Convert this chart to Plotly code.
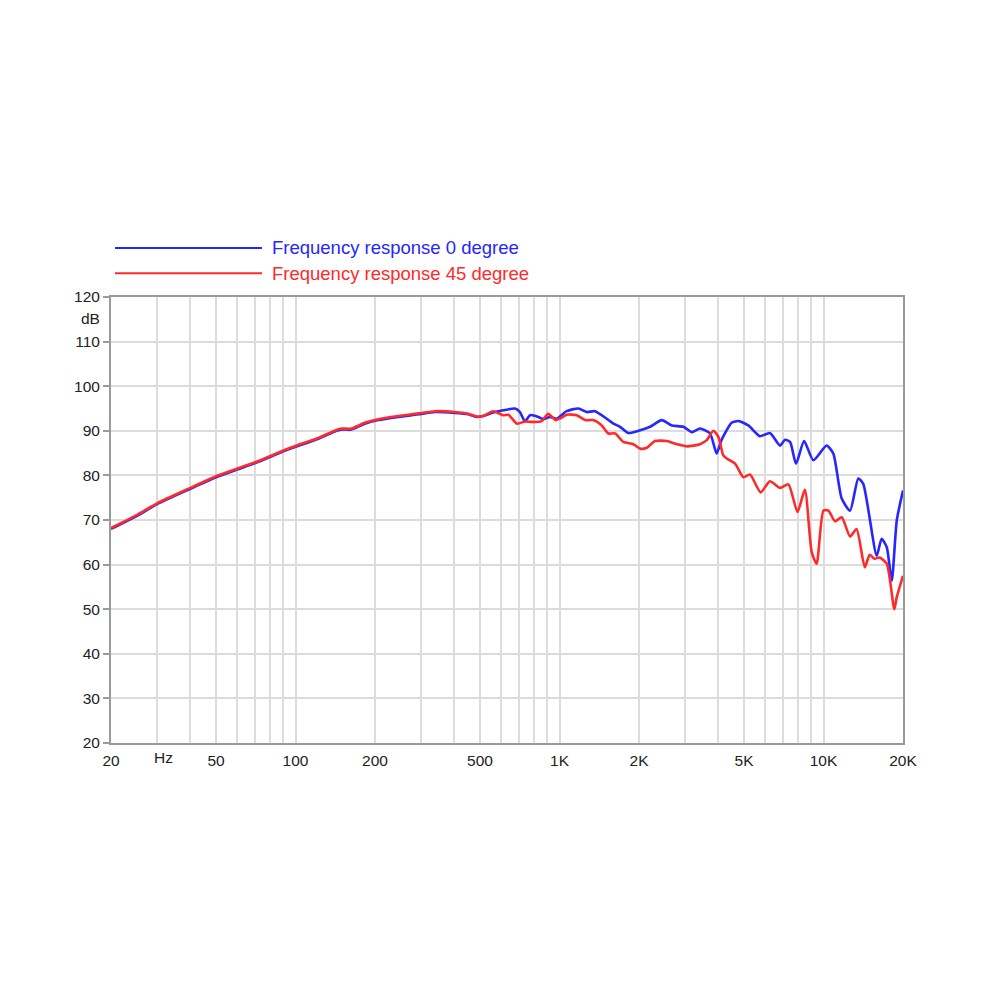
import plotly.graph_objects as go
import numpy as np

# ---- data ----
freq_0 = [20, 25, 30, 40, 50, 60, 70, 80, 90, 100, 122, 143, 150, 163, 183, 206, 245, 292, 337, 402, 451, 485,
          513, 560, 612, 678, 708, 740, 773, 831, 867, 920, 975, 1064, 1179, 1268, 1362, 1509, 1600, 1695, 1823,
          2019, 2203, 2440, 2661, 2945, 3170, 3405, 3716, 3938, 4105, 4487, 4760, 5190, 5741, 6265, 6844, 7150,
          7470, 7866, 8440, 9150, 10270, 10890, 11720, 12600, 13540, 14140, 15900, 16600, 17360, 18130, 18940, 20000]
db_0 = [68.0, 70.9, 73.6, 77.0, 79.6, 81.3, 82.7, 84.1, 85.4, 86.4, 88.2, 90.0, 90.3, 90.3, 91.6, 92.4, 93.1, 93.7,
        94.2, 94.0, 93.7, 93.1, 93.3, 94.1, 94.6, 95.0, 94.2, 92.1, 93.5, 93.1, 92.6, 93.1, 92.7, 94.4, 95.0, 94.2,
        94.4, 92.7, 91.6, 90.9, 89.5, 90.1, 90.9, 92.4, 91.2, 90.9, 89.7, 90.5, 89.4, 84.9, 87.9, 91.8, 92.2, 91.2,
        88.8, 89.5, 86.7, 88.0, 87.5, 82.6, 87.7, 83.4, 86.7, 84.9, 74.8, 72.1, 79.3, 78.1, 62.0, 65.8, 63.9, 56.4,
        69.9, 76.6]

freq_45 = [20, 25, 30, 40, 50, 60, 70, 80, 90, 100, 122, 143, 150, 163, 183, 206, 245, 292, 337, 402, 451, 485,
           513, 560, 612, 640, 690, 740, 784, 852, 906, 964, 1000, 1064, 1162, 1250, 1340, 1445, 1532, 1625, 1745,
           1903, 2019, 2140, 2300, 2547, 2780, 3040, 3405, 3610, 3826, 4000, 4171, 4300, 4630, 4970, 5265, 5780,
           6265, 6844, 7360, 7970, 8500, 9020, 9420, 9990, 10440, 11060, 11720, 12600, 13340, 14330, 14960, 15610,
           16300, 17360, 18540, 18940, 20000]
db_45 = [68.2, 71.1, 73.8, 77.2, 79.8, 81.5, 82.9, 84.3, 85.6, 86.6, 88.4, 90.2, 90.5, 90.5, 91.8, 92.6, 93.3, 93.9,
         94.4, 94.2, 93.8, 93.2, 93.3, 94.4, 93.5, 93.6, 91.6, 92.1, 92.0, 92.1, 93.8, 92.4, 92.7, 93.6, 93.5, 92.4,
         92.4, 91.2, 89.4, 89.4, 87.5, 87.0, 86.0, 86.2, 87.7, 87.7, 87.0, 86.5, 87.0, 87.9, 90.0, 88.6, 84.5, 83.8,
         82.6, 79.6, 80.2, 76.2, 78.7, 77.2, 78.0, 71.8, 76.8, 62.8, 60.2, 72.1, 72.1, 69.7, 70.6, 66.3, 68.0, 59.4,
         62.2, 61.3, 61.6, 60.2, 50.0, 52.7, 57.5]

series_names = ["Frequency response 0 degree", "Frequency response 45 degree"]
series_colors = ["#2626ff", "#ff2a2a"]

x_tick_vals = [20, 50, 100, 200, 500, 1000, 2000, 5000, 10000, 20000]
x_tick_text = ["20", "50", "100", "200", "500", "1K", "2K", "5K", "10K", "20K"]
x_grid_vals = [30, 40, 50, 60, 70, 80, 90, 100, 200, 300, 400, 500, 600, 700, 800, 900, 1000,
               2000, 3000, 4000, 5000, 6000, 7000, 8000, 9000, 10000]
y_tick_vals = [20, 30, 40, 50, 60, 70, 80, 90, 100, 110, 120]

FONT = "Liberation Sans, Arial, Helvetica, sans-serif"

fig = go.Figure()
fig.add_trace(go.Scatter(x=freq_0, y=db_0, mode="lines", name=series_names[0],
                         line=dict(color=series_colors[0], width=2.6, shape="spline", smoothing=0.6)))
fig.add_trace(go.Scatter(x=freq_45, y=db_45, mode="lines", name=series_names[1],
                         line=dict(color=series_colors[1], width=2.6, shape="spline", smoothing=0.6)))

fig.update_layout(
    width=1000, height=1000,
    margin=dict(l=103, r=105, t=289, b=265, pad=0),
    paper_bgcolor="white", plot_bgcolor="white",
    showlegend=False,
    font=dict(family=FONT, size=15, color="#222222"),
)
fig.update_xaxes(
    type="log", range=[np.log10(20), np.log10(20000)],
    tickmode="array", tickvals=x_tick_vals, ticktext=x_tick_text,
    showgrid=False, ticks="", ticklabelstandoff=2,
    minor=dict(tickmode="array", tickvals=x_grid_vals, showgrid=True, gridcolor="#dcdcdc", gridwidth=1.5, ticks=""),
    showline=True, linecolor="#9a9a9a", linewidth=2, mirror=True,
    tickfont=dict(size=15.5, color="#222222"), zeroline=False,
)
fig.update_yaxes(
    range=[20, 120], tickmode="array", tickvals=y_tick_vals,
    showgrid=True, gridcolor="#dcdcdc", gridwidth=1.5,
    ticks="outside", ticklen=6, tickcolor="#9a9a9a", tickwidth=1.5,
    showline=True, linecolor="#9a9a9a", linewidth=2, mirror=True,
    tickfont=dict(size=15.5, color="#222222"), zeroline=False,
)

# axis unit labels
fig.add_annotation(x=np.log10(31.5), xref="x", y=0, yref="paper", text="Hz", showarrow=False,
                   yanchor="top", yshift=-4, font=dict(size=15.5, color="#222222"))
fig.add_annotation(x=0, xref="paper", y=115.1, yref="y", text="dB", showarrow=False,
                   xanchor="right", xshift=-9, font=dict(size=15.5, color="#222222"))

# legend drawn at top-left
leg_y = [1.110, 1.0535]
for i in range(2):
    fig.add_shape(type="line", xref="paper", yref="paper", x0=0.005, x1=0.1907, y0=leg_y[i], y1=leg_y[i],
                  line=dict(color=series_colors[i], width=2))
    fig.add_annotation(x=0.2008, xref="paper", y=leg_y[i], yref="paper", text=series_names[i],
                       showarrow=False, xanchor="left", yanchor="middle",
                       font=dict(size=18.5, color=series_colors[i]))

fig.write_html("out.html")
